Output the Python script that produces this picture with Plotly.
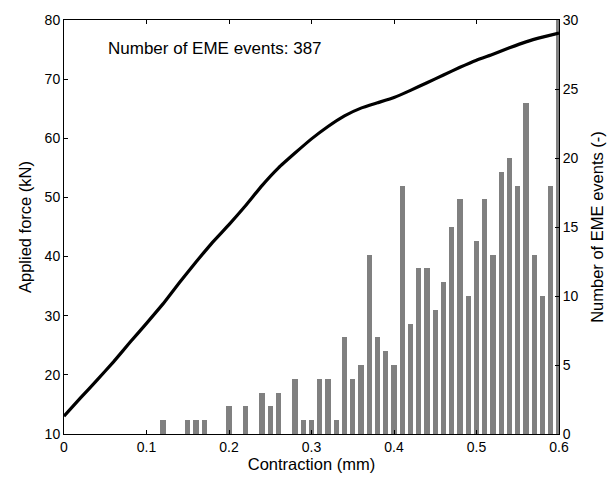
import plotly.graph_objects as go

# EME event histogram (bins of 0.01 mm)
bin_centers = [round(0.01 * i, 2) for i in range(12, 61)]
event_counts = [1, 0, 0, 1, 1, 1, 0, 0, 2, 0, 2, 0, 3, 2, 3, 0, 4, 1, 1, 4, 4, 1,
                7, 4, 5, 13, 7, 6, 5, 18, 8, 12, 12, 9, 11, 15, 17, 10, 14,
                17, 13, 19, 20, 18, 24, 13, 10, 18, 31]

# Applied force curve
contraction = [0.00, 0.02, 0.04, 0.06, 0.08, 0.10, 0.12, 0.14, 0.16, 0.18, 0.20,
               0.22, 0.24, 0.26, 0.28, 0.30, 0.32, 0.34, 0.36, 0.38, 0.40,
               0.42, 0.44, 0.46, 0.48, 0.50, 0.52, 0.54, 0.56, 0.58, 0.60]
force = [13.0, 16.1, 19.1, 22.2, 25.5, 28.7, 32.0, 35.6, 39.1, 42.4, 45.4,
         48.6, 52.0, 55.0, 57.5, 59.9, 62.0, 63.8, 65.1, 66.0, 66.9,
         68.1, 69.4, 70.7, 72.0, 73.2, 74.2, 75.3, 76.3, 77.1, 77.8]

x_ticks = [0, 0.1, 0.2, 0.3, 0.4, 0.5, 0.6]
x_ticktext = ["0", "0.1", "0.2", "0.3", "0.4", "0.5", "0.6"]
force_ticks = [10, 20, 30, 40, 50, 60, 70, 80]
event_ticks = [0, 5, 10, 15, 20, 25, 30]

FONT = "Liberation Sans, Arial, sans-serif"
TITLE_FONT = dict(family=FONT, size=16.5, color="black")

fig = go.Figure()
fig.add_trace(go.Bar(x=bin_centers, y=event_counts, width=0.0065,
                     marker=dict(color="#808080", line=dict(width=0)),
                     yaxis="y", showlegend=False))
fig.add_trace(go.Scatter(x=contraction, y=force, mode="lines",
                         line=dict(color="black", width=3.2, shape="spline", smoothing=0.3),
                         yaxis="y2", showlegend=False))

axis_common = dict(showgrid=False, zeroline=False, showline=True, linecolor="black",
                   linewidth=1, ticks="inside", ticklen=4, tickcolor="black",
                   tickfont=dict(family=FONT, size=14, color="black"))

fig.update_layout(
    width=615, height=482,
    margin=dict(l=64, r=56, t=16, b=48),
    paper_bgcolor="white", plot_bgcolor="white",
    bargap=0,
    xaxis=dict(range=[0, 0.6], tickvals=x_ticks, ticktext=x_ticktext, mirror="ticks",
               title=dict(text="Contraction (mm)", font=TITLE_FONT, standoff=2),
               **axis_common),
    yaxis=dict(range=[0, 30], tickvals=event_ticks, side="right",
               title=dict(text="Number of EME events (-)", font=TITLE_FONT, standoff=13),
               **axis_common),
    yaxis2=dict(range=[10, 80], tickvals=force_ticks, side="left", overlaying="y",
                title=dict(text="Applied force (kN)", font=TITLE_FONT, standoff=8),
                **axis_common),
    annotations=[dict(text="Number of EME events: 387", x=0.051, y=75.2, xref="x", yref="y2",
                      xanchor="left", yanchor="middle", showarrow=False,
                      font=dict(family=FONT, size=17, color="black"))],
)

fig.write_html("out.html")
